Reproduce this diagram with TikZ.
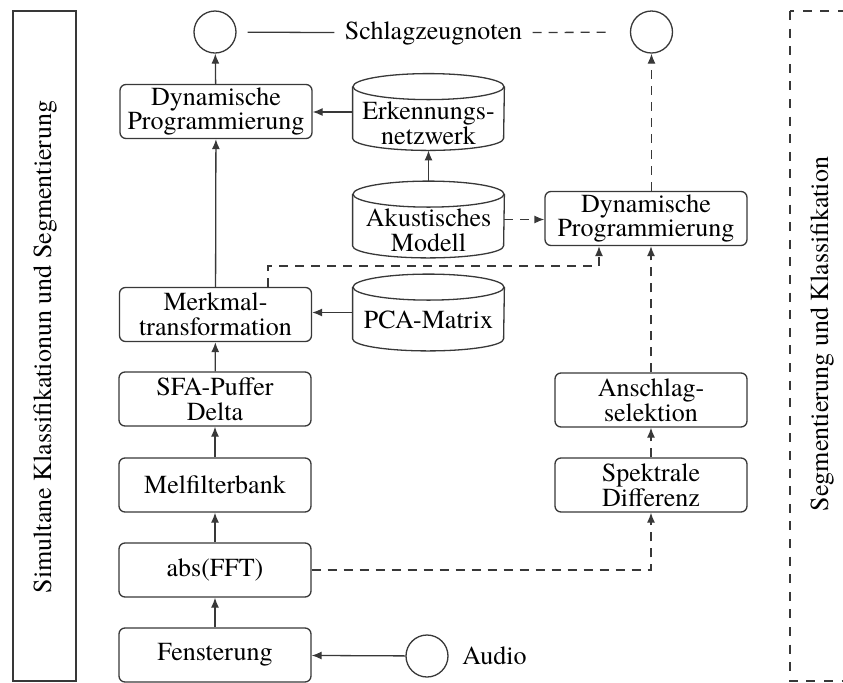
\documentclass[tikz,border=0pt]{standalone}
\usepackage{fontspec}
\setmainfont{texgyretermes}[Extension=.otf, UprightFont=*-regular, BoldFont=*-bold, ItalicFont=*-italic, BoldItalicFont=*-bolditalic]
\usetikzlibrary{arrows.meta,calc}
\definecolor{ln}{gray}{0.22}
\newcommand\cylshape[1]{%
  \draw[ln,line width=0.65pt] ($(#1.north west)+(0,-6.5pt)$) -- ($(#1.south west)+(0,6pt)$)
    arc[start angle=180,end angle=360,x radius=37.75pt,y radius=6pt]
    -- ($(#1.north east)+(0,-6.5pt)$);
  \draw[ln,line width=0.65pt] ($(#1.north)+(0,-6.5pt)$) ellipse[x radius=37.75pt,y radius=6.5pt];}
\begin{document}
\begin{tikzpicture}[x=0.5pt,y=-0.5pt,
  every node/.style={font=\fontsize{13}{12.4}\selectfont, text=black},
  box/.style={draw=ln, line width=0.65pt, rounded corners=3pt, minimum width=96pt,
    minimum height=27pt, align=center, inner sep=0pt},
  cylbox/.style={minimum width=75.5pt, minimum height=38pt, inner sep=0pt},
  txt/.style={align=center, inner sep=0pt},
  circ/.style={draw=ln, line width=0.65pt, circle, minimum size=21pt, inner sep=0pt},
  conn/.style={draw=ln, line width=0.65pt},
  arr/.style={conn, -{Latex[length=5pt,width=4pt]}},
  dsh/.style={dash pattern=on 4.5pt off 3.5pt},
  darr/.style={arr, dsh}]
\clip (0,0) rectangle (843,682);

% frames
\draw[conn] (13,11) rectangle (76,681);
\draw[conn, dash pattern=on 4.5pt off 4.3pt] (790,11) rectangle (870,681);
\node[rotate=90, inner sep=0pt] (lefttitle) at (45,347) {Simultane Klassifikationun und Segmentierung};
\node[rotate=90, inner sep=0pt] (righttitle) at (822,334) {Segmentierung und Klassifikation};

% circles and top label
\node[circ] (tl) at (215,32) {};
\node[circ] (tr) at (651.5,32) {};
\node[circ] (audio) at (427,656) {};
\node[inner sep=0pt, anchor=west] (audiot) at (462,656) {Audio};
\node[inner sep=5pt] (schlag) at (433.5,33) {Schlagzeugnoten};

% left chain
\node[box] (dp1) at (216,111.5) {Dynamische\\Programmierung};
\node[box] (merk) at (215.5,314.5) {Merkmal-\\transformation};
\node[box] (sfa) at (215,399) {SFA-Puffer\\Delta};
\node[box] (mel) at (215,485) {Melfilterbank};
\node[box] (fft) at (215,570) {abs(FFT)};
\node[box] (fenst) at (215,655) {Fensterung};

% cylinders
\node[cylbox] (erk) at (428.5,112) {};
\node[txt] (erkt) at (428.5,123) {Erkennungs-\\netzwerk};
\node[cylbox] (akust) at (428.5,219.5) {};
\node[txt] (akustt) at (428.5,230) {Akustisches\\Modell};
\node[cylbox] (pca) at (428.5,312.5) {};
\node[txt] (pcat) at (428.5,320) {PCA-Matrix};
\cylshape{erk}
\cylshape{akust}
\cylshape{pca}

% right chain
\node[box, minimum width=101pt] (dp2) at (646,218.5) {Dynamische\\Programmierung};
\node[box] (ansch) at (651,400) {Anschlag-\\selektion};
\node[box] (spek) at (651,485) {Spektrale\\Differenz};

% helper coordinates
\coordinate (k1) at (268,266);
\coordinate (k2) at (599,266);

% solid connectors
\draw[arr] (audio) -- (fenst);
\draw[arr] (fenst) -- (fft);
\draw[arr] (fft) -- (mel);
\draw[arr] (mel) -- (sfa);
\draw[arr] (sfa) -- (merk);
\draw[arr] (merk) -- (dp1);
\draw[arr] (dp1) -- (tl);
\draw[arr] (erk.west) -- (dp1.east |- erk.west);
\draw[arr] (akust) -- (erk);
\draw[arr] (pca.west) -- (merk.east |- pca.west);
\draw[conn, shorten <=5.5pt] (tl) -- (schlag);

% dashed connectors
\draw[conn, dsh, shorten >=9pt] (schlag) -- (tr);
\draw[darr] (akust.east) -- (dp2.west |- akust.east);
\draw[darr] (merk.north -| k1) -- (k1) -- (k2) -- (dp2.south -| k2);
\draw[darr] (fft.east) -| (spek.south);
\draw[darr] (spek) -- (ansch);
\draw[darr] (ansch.north) -- (ansch.north |- dp2.south);
\draw[darr] (dp2.north -| tr) -- (tr);
\end{tikzpicture}
\end{document}
